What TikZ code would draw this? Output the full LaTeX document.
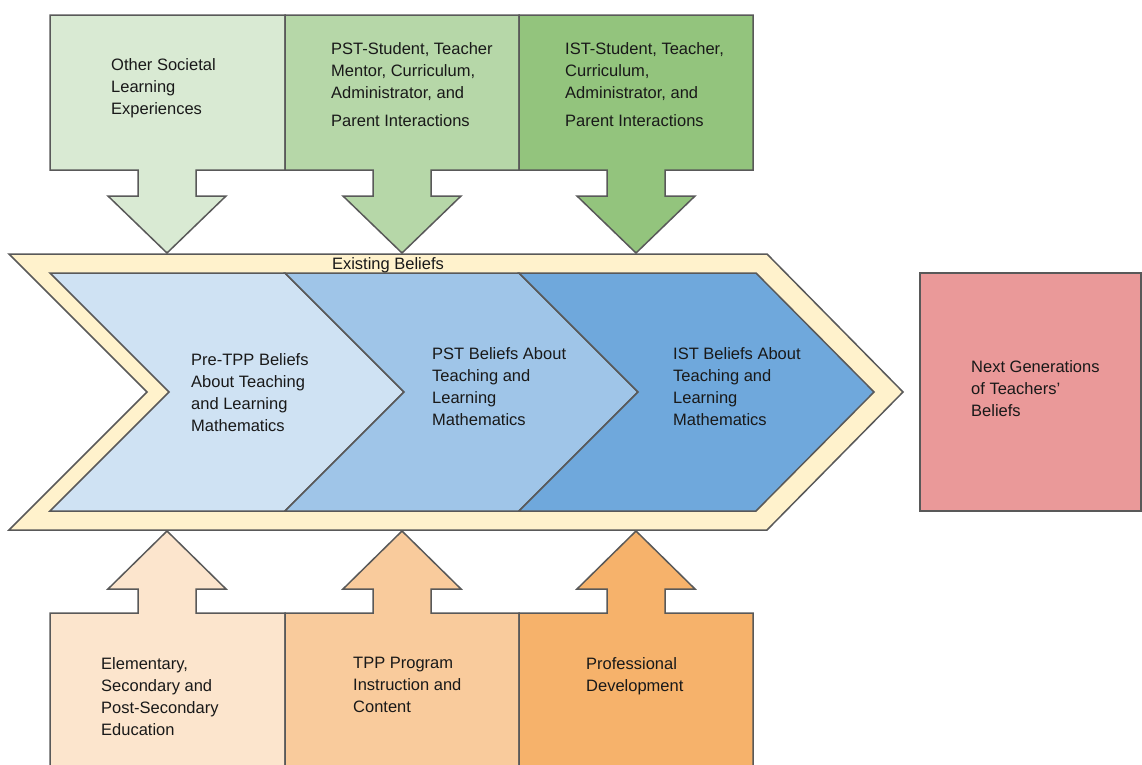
\documentclass[tikz,border=0pt]{standalone}
\usepackage{fontspec}
\setmainfont{Liberation Sans}
\definecolor{greenA}{HTML}{D9EAD3}
\definecolor{greenB}{HTML}{B6D7A8}
\definecolor{greenC}{HTML}{93C47D}
\definecolor{blueA}{HTML}{CFE2F3}
\definecolor{blueB}{HTML}{9FC5E8}
\definecolor{blueC}{HTML}{6FA8DC}
\definecolor{orangeA}{HTML}{FCE5CD}
\definecolor{orangeB}{HTML}{F9CB9C}
\definecolor{orangeC}{HTML}{F6B26B}
\definecolor{bannerY}{HTML}{FFF2CC}
\definecolor{nextR}{HTML}{EA9999}
\definecolor{edgeG}{HTML}{595959}
\begin{document}
\begin{tikzpicture}[x=1pt,y=-1pt,declare function={sw=29;hw=59;},
            shp/.style={draw=edgeG,line width=1.5pt,line join=miter},
            lbl/.style={anchor=north west,inner sep=0pt,align=left,text=black!90}]
            \fontsize{16.5}{22}\selectfont
             \useasboundingbox (0,0) rectangle (1142,764);
             \clip (0,0) rectangle (1142,764);
             % influences from above
             \filldraw[shp,fill=greenA] (50,15) -- (285,15) -- (285,170) -- ({167+sw},170) -- ({167+sw},196) -- ({167+hw},196) -- (167,253) -- ({167-hw},196) -- ({167-sw},196) -- ({167-sw},170) -- (50,170) -- cycle;
             \filldraw[shp,fill=greenB] (285,15) -- (519,15) -- (519,170) -- ({402+sw},170) -- ({402+sw},196) -- ({402+hw},196) -- (402,253) -- ({402-hw},196) -- ({402-sw},196) -- ({402-sw},170) -- (285,170) -- cycle;
             \filldraw[shp,fill=greenC] (519,15) -- (753,15) -- (753,170) -- ({636+sw},170) -- ({636+sw},196) -- ({636+hw},196) -- (636,253) -- ({636-hw},196) -- ({636-sw},196) -- ({636-sw},170) -- (519,170) -- cycle;
             % influences from below
             \filldraw[shp,fill=orangeA] (50,770) -- (50,613) -- ({167-sw},613) -- ({167-sw},589) -- ({167-hw},589) -- (167,531) -- ({167+hw},589) -- ({167+sw},589) -- ({167+sw},613) -- (285,613) -- (285,770) -- cycle;
             \filldraw[shp,fill=orangeB] (285,770) -- (285,613) -- ({402-sw},613) -- ({402-sw},589) -- ({402-hw},589) -- (402,531) -- ({402+hw},589) -- ({402+sw},589) -- ({402+sw},613) -- (519,613) -- (519,770) -- cycle;
             \filldraw[shp,fill=orangeC] (519,770) -- (519,613) -- ({636-sw},613) -- ({636-sw},589) -- ({636-hw},589) -- (636,531) -- ({636+hw},589) -- ({636+sw},589) -- ({636+sw},613) -- (753,613) -- (753,770) -- cycle;
             % belief chevrons
             \filldraw[shp,fill=bannerY] (9,254) -- (767,254) -- (903,392) -- (767,530) -- (9,530) -- (147,392) -- cycle;
             \filldraw[shp,fill=blueA] (50,273)  -- (285,273) -- (404,392) -- (285,511) -- (50,511)  -- (169,392) -- cycle;
             \filldraw[shp,fill=blueB] (285,273) -- (519,273) -- (638,392) -- (519,511) -- (285,511) -- (404,392) -- cycle;
             \filldraw[shp,fill=blueC] (519,273) -- (756,273) -- (874,392) -- (756,511) -- (519,511) -- (638,392) -- cycle;
             \filldraw[shp,fill=nextR] (920,273) rectangle (1141,511);
             % labels
             \node[lbl] (otherexp) at (111,58) {Other Societal\\Learning\\Experiences};
             \node[lbl] (pstinter) at (331,42) {PST-Student, Teacher\\Mentor, Curriculum,\\Administrator, and\\[6pt]Parent Interactions};
             \node[lbl] (istinter) at (565,42) {IST-Student, Teacher,\\Curriculum,\\Administrator, and\\[6pt]Parent Interactions};
             \node[inner sep=0pt,text=black!90] (existing) at (388,265) {Existing Beliefs};
             \node[lbl] (pretpp) at (191,353) {Pre-TPP Beliefs\\About Teaching\\and Learning\\Mathematics};
             \node[lbl] (pstbel) at (432,347) {PST Beliefs About\\Teaching and\\Learning\\Mathematics};
             \node[lbl] (istbel) at (673,347) {IST Beliefs About\\Teaching and\\Learning\\Mathematics};
             \node[lbl] (nextgen) at (971,360) {Next Generations\\of Teachers’\\Beliefs};
             \node[lbl] (eledu) at (101,657) {Elementary,\\Secondary and\\Post-Secondary\\Education};
             \node[lbl] (tppinst) at (353,657) {TPP Program\\Instruction and\\Content};
             \node[lbl] (profdev) at (586,657) {Professional\\Development};
        \end{tikzpicture}
\end{document}
